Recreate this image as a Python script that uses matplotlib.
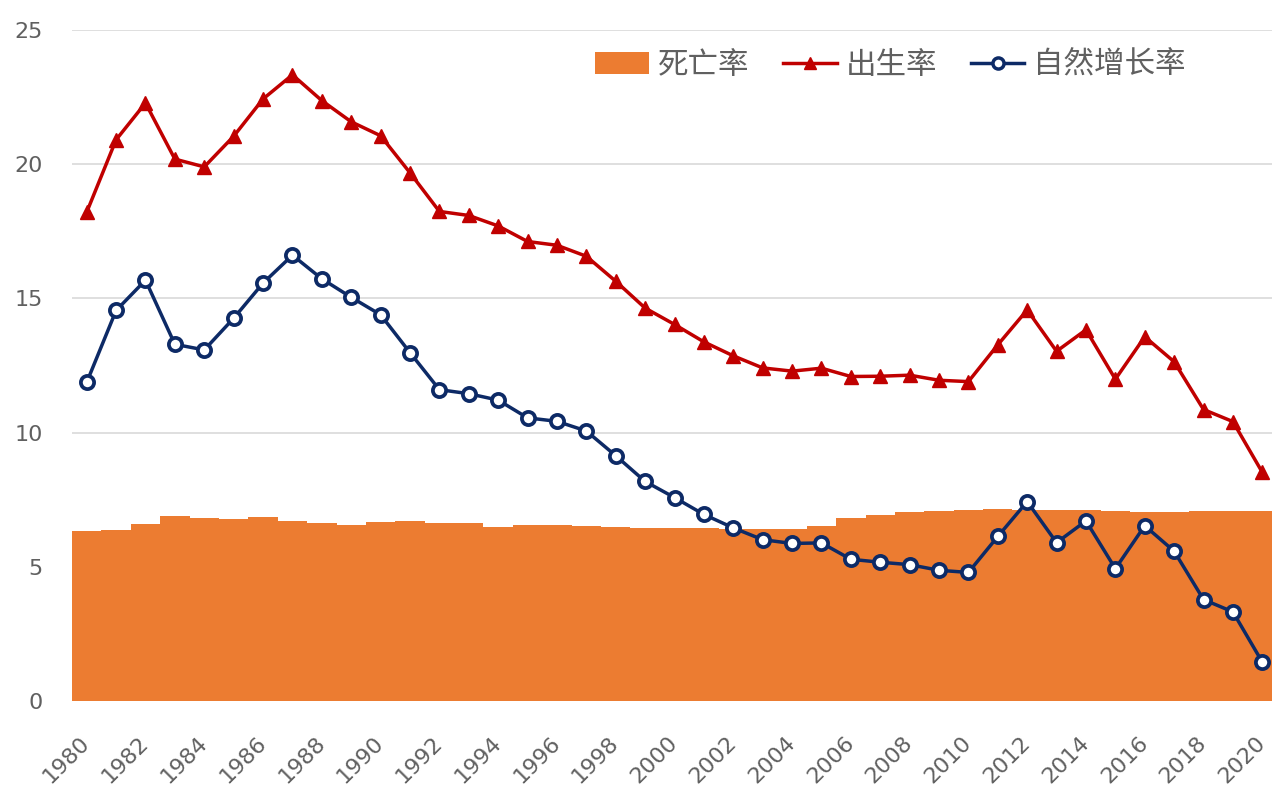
import matplotlib
matplotlib.use("Agg")
import matplotlib.pyplot as plt
from matplotlib.lines import Line2D
from matplotlib.patches import Patch

plt.rcParams['font.family'] = ['Noto Sans CJK SC', 'DejaVu Sans']

years = list(range(1980, 2021))
death_rate = [6.34, 6.36, 6.60, 6.90, 6.82, 6.78, 6.86, 6.72, 6.64, 6.54,
              6.67, 6.70, 6.64, 6.64, 6.49, 6.57, 6.56, 6.51, 6.50, 6.46,
              6.45, 6.43, 6.41, 6.40, 6.42, 6.51, 6.81, 6.93, 7.06, 7.08,
              7.11, 7.14, 7.13, 7.13, 7.12, 7.07, 7.04, 7.06, 7.08, 7.09, 7.07]
birth_rate = [18.21, 20.91, 22.28, 20.19, 19.90, 21.04, 22.43, 23.33, 22.37, 21.58,
              21.06, 19.68, 18.24, 18.09, 17.70, 17.12, 16.98, 16.57, 15.64, 14.64,
              14.03, 13.38, 12.86, 12.41, 12.29, 12.40, 12.09, 12.10, 12.14, 11.95,
              11.90, 13.27, 14.57, 13.03, 13.83, 11.99, 13.57, 12.64, 10.86, 10.41, 8.52]
growth_rate = [11.87, 14.55, 15.68, 13.29, 13.08, 14.26, 15.57, 16.61, 15.73, 15.04,
               14.39, 12.98, 11.60, 11.45, 11.21, 10.55, 10.42, 10.06, 9.14, 8.18,
               7.58, 6.95, 6.45, 6.01, 5.87, 5.89, 5.28, 5.17, 5.08, 4.87,
               4.79, 6.13, 7.43, 5.90, 6.71, 4.93, 6.53, 5.58, 3.78, 3.32, 1.45]
tick_years = list(range(1980, 2021, 2))
y_ticks = [0, 5, 10, 15, 20, 25]
labels = ['死亡率', '出生率', '自然增长率']

ORANGE = '#EC7C31'
RED = '#C00000'
NAVY = '#0D2A66'
GRAY = '#606060'

W, H = 1272, 791
fig = plt.figure(figsize=(W / 100, H / 100), dpi=100)
ax = fig.add_axes([72 / W, 90 / H, 1205 / W, 671 / H])

ax.bar(years, death_rate, width=1.0, color=ORANGE, zorder=2, label=labels[0])
ax.plot(years, birth_rate, color=RED, lw=2.5, marker='^', ms=9.5,
        mfc=RED, mec=RED, zorder=3, label=labels[1])
ax.plot(years, growth_rate, color=NAVY, lw=2.5, marker='o', ms=9.5,
        mfc='white', mec=NAVY, mew=2.7, zorder=4, label=labels[2])

ax.set_xlim(1979.5, 2020.5)
ax.set_ylim(0, 25)
ax.set_yticks(y_ticks)
ax.set_xticks(tick_years)
ax.set_xticklabels([str(y) for y in tick_years], rotation=45, ha='right',
                   va='center', rotation_mode='anchor')
ax.tick_params(axis='y', length=0, pad=21, labelsize=16, labelcolor=GRAY)
ax.tick_params(axis='x', length=0, pad=28, labelsize=16, labelcolor=GRAY)
for t in ax.get_xticklabels() + ax.get_yticklabels():
    t.set_family('DejaVu Sans')
ax.grid(axis='y', color='#D9D9D9', lw=1.2, zorder=0)
ax.set_axisbelow(True)
for s in ax.spines.values():
    s.set_visible(False)

handles = [Patch(facecolor=ORANGE, edgecolor='none'),
           Line2D([], [], color=RED, lw=2.5, marker='^', ms=9, mfc=RED, mec=RED),
           Line2D([], [], color=NAVY, lw=2.5, marker='o', ms=8, mfc='white',
                  mec=NAVY, mew=2.5)]
leg = ax.legend(handles, labels, loc='center right',
                bbox_to_anchor=((1186 - 72) / 1205, (701 - 65) / 671),
                ncol=3, frameon=False, fontsize=22, handlelength=1.75,
                handletextpad=0.3, columnspacing=1.1, borderaxespad=0,
                borderpad=0)
for t in leg.get_texts():
    t.set_color(GRAY)

fig.savefig('out.png', dpi=100)
